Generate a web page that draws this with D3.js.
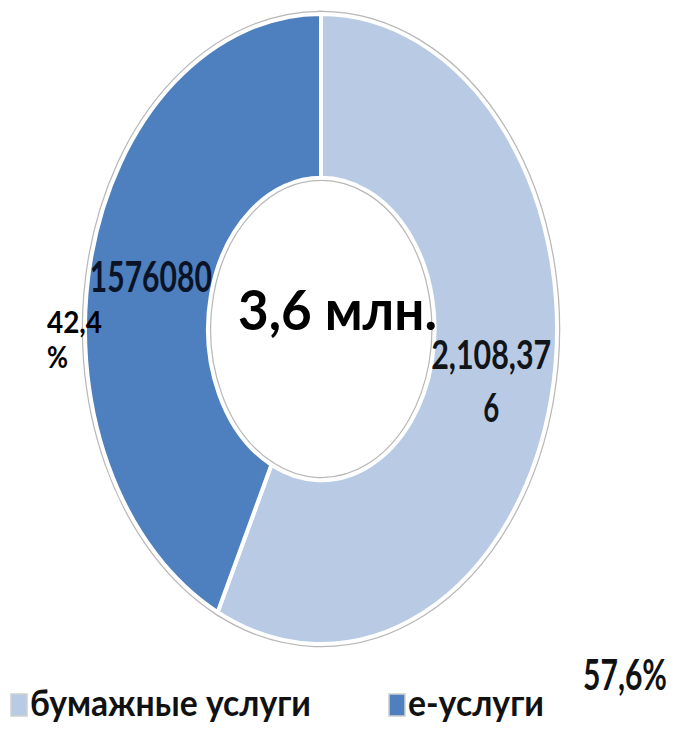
<!DOCTYPE html>
<html>
<head>
<meta charset="utf-8">
<script src="https://cdn.jsdelivr.net/npm/d3@7"></script>
<style>
  html, body { margin: 0; padding: 0; background: #fff; }
  svg { display: block; }
  text { font-family: Lato, "Open Sans", sans-serif; }
</style>
</head>
<body>
<svg id="chart" width="676" height="729"></svg>
<script>
// ---- data ----
const categories = ["бумажные услуги", "е-услуги"];
const values = [2108376, 1576080];
const valueLabelLines = [["2,108,37", "6"], ["1576080"]];
const percentLabelLines = [["57,6%"], ["42,4", "%"]];
const totalLabel = "3,6 млн.";
const colors = ["#b9cbe4", "#4e7fbe"];

// ---- layout ----
const W = 676, H = 729;
const cx = 321, cy = 329, rx = 236, ry = 315;
const innerRatio = 0.48;

const svg = d3.select("#chart");

const pie = d3.pie().sort(null).value(d => d)(values);
const arc = d3.arc().innerRadius(innerRatio).outerRadius(1);
const labelArc = d3.arc().innerRadius(0.74).outerRadius(0.74);

const g = svg.append("g").attr("transform", `translate(${cx},${cy}) scale(${rx},${ry})`);

// gray outline layer
g.selectAll("path.edge").data(pie).join("path")
  .attr("class", "edge")
  .attr("d", arc)
  .attr("fill", "none")
  .attr("stroke", "#b8b8b8")
  .attr("stroke-width", 6.5)
  .attr("vector-effect", "non-scaling-stroke");

// slices with white border
g.selectAll("path.slice").data(pie).join("path")
  .attr("class", "slice")
  .attr("d", arc)
  .attr("fill", (d, i) => colors[i])
  .attr("stroke", "#ffffff")
  .attr("stroke-width", 4)
  .attr("vector-effect", "non-scaling-stroke");

// helper for a fitted text line
function fitText(x, y, str, size, width, opts = {}) {
  const t = svg.append("text")
    .attr("x", x).attr("y", y)
    .attr("font-size", size)
    .attr("font-weight", opts.weight || "bold")
    .attr("fill", opts.fill || "#000")
    .attr("text-anchor", opts.anchor || "start")
    .text(str);
  if (width) t.attr("textLength", width).attr("lengthAdjust", "spacingAndGlyphs");
  return t;
}

// value labels at centroids
const vStyle = [
  { size: 40, widths: [120, 16], lineH: 53, fill: "#111418", weight: "bold" },
  { size: 42, widths: [122], lineH: 50, fill: "#0b1426", weight: "bold" }
];
pie.forEach((d, i) => {
  const c = labelArc.centroid(d);
  const px = cx + c[0] * rx, py = cy + c[1] * ry;
  const lines = valueLabelLines[i];
  const s = vStyle[i];
  const total = (lines.length - 1) * s.lineH;
  lines.forEach((ln, j) => {
    fitText(px, py - total / 2 + j * s.lineH + s.size * 0.36, ln, s.size, s.widths[j],
      { anchor: "middle", fill: s.fill, weight: s.weight });
  });
});

// percent labels
fitText(47, 333, percentLabelLines[1][0], 30, 55);
fitText(47, 368, percentLabelLines[1][1], 30, 21);
fitText(583, 690, percentLabelLines[0][0], 42, 84, { fill: "#111" });

// center total
fitText(238, 330, totalLabel, 55, 199);

// legend
const legendX = [10, 388];
const legendTextW = [281, 136];
categories.forEach((c, i) => {
  svg.append("rect")
    .attr("x", legendX[i] + 1).attr("y", 694)
    .attr("width", 16).attr("height", 22)
    .attr("fill", colors[i])
    .attr("stroke", "#d0d0d0").attr("stroke-width", 1.5);
  fitText(legendX[i] + 20, 716, c, 37, legendTextW[i], { fill: "#111" });
});
</script>
</body>
</html>
